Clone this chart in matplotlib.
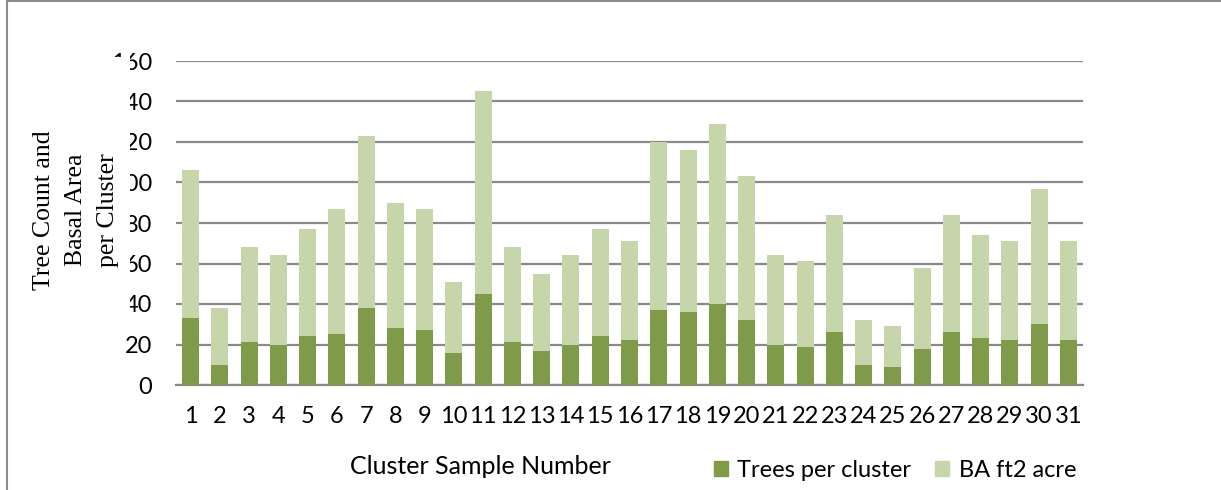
import matplotlib.pyplot as plt
import matplotlib.patches as mpatches
import matplotlib.lines as mlines
import numpy as np

clusters = [str(i) for i in range(1, 32)]
trees = [33, 10, 21, 20, 24, 25, 38, 28, 27, 16, 45, 21, 17, 20, 24, 22,
         37, 36, 40, 32, 20, 19, 26, 10, 9, 18, 26, 23, 22, 30, 22]
basal_area = [73, 28, 47, 44, 53, 62, 85, 62, 60, 35, 100, 47, 38, 44, 53, 49,
              83, 80, 89, 71, 44, 42, 58, 22, 20, 40, 58, 51, 49, 67, 49]
yticks = [0, 20, 40, 60, 80, 100, 120, 140, 160]

dark = '#7F9A48'
light = '#C6D6AA'
grid_col = '#8A8A8A'
sans = 'Lato'

W, H = 1221, 490
fig = plt.figure(figsize=(W / 100, H / 100), dpi=100)
ax = fig.add_axes([176 / W, 1 - 385 / H, (1083 - 176) / W, (385 - 61) / H])

x = np.arange(len(clusters))
ax.bar(x, trees, width=0.58, color=dark, zorder=3)
ax.bar(x, basal_area, width=0.58, bottom=trees, color=light, zorder=3)

ax.set_xlim(-0.5, len(clusters) - 0.5)
ax.set_ylim(0, 160)
ax.set_yticks(yticks)
ax.set_xticks(x)
ax.set_xticklabels(clusters)
ax.yaxis.grid(True, color=grid_col, linewidth=1.6, zorder=0)
ax.set_axisbelow(True)
for s in ['left', 'right', 'top']:
    ax.spines[s].set_visible(False)
ax.spines['bottom'].set_color(grid_col)
ax.spines['bottom'].set_linewidth(1.6)
ax.tick_params(axis='y', length=0, pad=17, labelsize=17)
ax.tick_params(axis='x', length=0, pad=15, labelsize=17)
for lab in ax.get_xticklabels() + ax.get_yticklabels():
    lab.set_fontfamily(sans)

# white box of the axis title hides part of the tick labels
fig.patches.append(mpatches.Rectangle((20 / W, 1 - 325 / H), 110 / W, 268 / H,
                                      transform=fig.transFigure, facecolor='white',
                                      edgecolor='none', zorder=5))
fig.text(76 / W, 1 - 210 / H, 'Tree Count and\nBasal Area\nper Cluster',
         rotation=90, ha='center', va='center', fontsize=18.5,
         family='Liberation Serif', linespacing=1.6, zorder=6)

fig.text(480 / W, 1 - 466 / H, 'Cluster Sample Number', ha='center', va='center',
         fontsize=18, family=sans)

handles = [mpatches.Patch(color=dark, label='Trees per cluster'),
           mpatches.Patch(color=light, label='BA ft2 acre')]
fig.legend(handles=handles, loc='center', bbox_to_anchor=(895 / W, 1 - 470 / H),
           ncol=2, frameon=False, handlelength=0.6, handleheight=0.6,
           handletextpad=0.4, columnspacing=1.0, prop={'family': sans, 'size': 17})

# chart border: only left and top edges fall inside the picture
fig.lines.append(mlines.Line2D([7.5 / W, 7.5 / W], [0, 1 - 1 / H],
                               transform=fig.transFigure, color='#8C8C8C', linewidth=1.5))
fig.lines.append(mlines.Line2D([7.5 / W, 1], [1 - 1 / H, 1 - 1 / H],
                               transform=fig.transFigure, color='#8C8C8C', linewidth=1.5))

fig.savefig('out.png', dpi=100)
